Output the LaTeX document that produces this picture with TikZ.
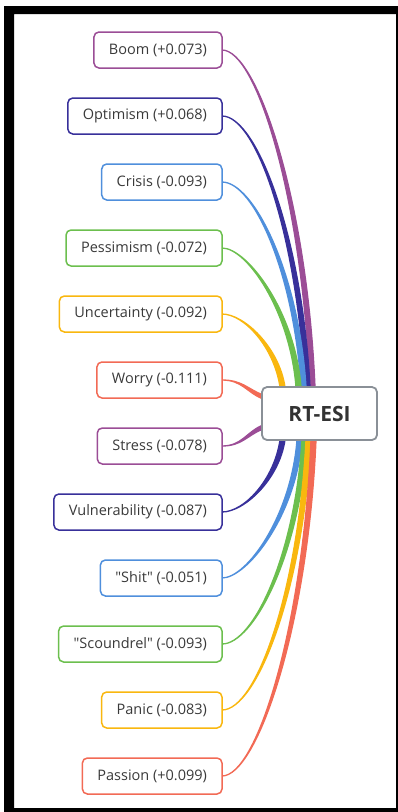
\documentclass[tikz,border=0pt]{standalone}
\usepackage{fontspec}
\setmainfont{Open Sans}[Ligatures=TeXOff]
\usetikzlibrary{calc,backgrounds}

\definecolor{mmpurple}{HTML}{9B4D96}
\definecolor{mmindigo}{HTML}{38309A}
\definecolor{mmblue}{HTML}{4F8FDC}
\definecolor{mmgreen}{HTML}{6CBF4E}
\definecolor{mmyellow}{HTML}{F9B70F}
\definecolor{mmcoral}{HTML}{F26A55}
\definecolor{hubgray}{HTML}{8A9097}
\definecolor{txtgray}{HTML}{3A3A3A}

\tikzset{
  leaf/.style={draw, rounded corners=5pt, line width=1.5pt, fill=white,
    minimum height=36pt, inner xsep=15pt, outer sep=0pt, anchor=east,
    text=txtgray, font=\fontsize{14.5}{17}\selectfont},
  branch/.style={line width=1.3pt},
}

\begin{document}
\begin{tikzpicture}[x=1pt, y=-1pt]
    \useasboundingbox (0,0) rectangle (398,812);
    % central topic
    \node[draw=hubgray, line width=1.8pt, rounded corners=5pt, fill=white, outer sep=0pt,
          minimum width=115pt, minimum height=53pt, text=black!80,
          font=\fontsize{21}{24}\selectfont\bfseries] (rtesi) at (319.5,413.5) {RT-ESI};
    % leaves
    \node[leaf, draw=mmpurple] (boom) at (222,50) {Boom (+0.073)};
    \node[leaf, draw=mmindigo] (optimism) at (222,116) {Optimism (+0.068)};
    \node[leaf, draw=mmblue] (crisis) at (222,182) {Crisis (-0.093)};
    \node[leaf, draw=mmgreen] (pessimism) at (222,248) {Pessimism (-0.072)};
    \node[leaf, draw=mmyellow] (uncertainty) at (222,314) {Uncertainty (-0.092)};
    \node[leaf, draw=mmcoral] (worry) at (222,380) {Worry (-0.111)};
    \node[leaf, draw=mmpurple] (stress) at (222,446) {Stress (-0.078)};
    \node[leaf, draw=mmindigo] (vulnerability) at (222,512) {Vulnerability (-0.087)};
    \node[leaf, draw=mmblue] (shit) at (222,578) {"Shit" (-0.051)};
    \node[leaf, draw=mmgreen] (scoundrel) at (222,644) {"Scoundrel" (-0.093)};
    \node[leaf, draw=mmyellow] (panic) at (222,710) {Panic (-0.083)};
    \node[leaf, draw=mmcoral] (passion) at (222,776) {Passion (+0.099)};

    \begin{pgfonlayer}{background}
    % frame
    \fill[black, even odd rule] (4,6) rectangle (398,812) (14,14) rectangle (396,808);
    % upper branches
    \filldraw[branch, mmpurple] (boom.east) .. controls +(35,0) and +(-8,-187) .. ($(rtesi.north west)+(48,0)$) -- ++(5,0) .. controls +(-8,-187) and ($(boom.east)+(35,0)$) .. (boom.east);
    \filldraw[branch, mmindigo] (optimism.east) .. controls +(35,0) and +(-8,-150) .. ($(rtesi.north west)+(43,0)$) -- ++(5,0) .. controls +(-8,-150) and ($(optimism.east)+(35,0)$) .. (optimism.east);
    \filldraw[branch, mmblue] (crisis.east) .. controls +(32,0) and +(-7,-113) .. ($(rtesi.north west)+(39,0)$) -- ++(5,0) .. controls +(-7,-113) and ($(crisis.east)+(32,0)$) .. (crisis.east);
    \filldraw[branch, mmgreen] (pessimism.east) .. controls +(25,0) and +(-6,-76) .. ($(rtesi.north west)+(34,0)$) -- ++(5,0) .. controls +(-6,-76) and ($(pessimism.east)+(25,0)$) .. (pessimism.east);
    \filldraw[branch, mmyellow] (uncertainty.east) .. controls +(22,0) and +(-6,-40) .. ($(rtesi.north west)+(18,0)$) -- ++(5,0) .. controls +(-6,-40) and ($(uncertainty.east)+(22,0)$) .. (uncertainty.east);
    % side branches
    \filldraw[branch, mmcoral] (worry.east) .. controls +(20,0) and +(-15,-6) .. ($(rtesi.west)+(0,-19)$) -- ++(0,4) .. controls +(-15,-6) and ($(worry.east)+(20,0)$) .. (worry.east);
    \filldraw[branch, mmpurple] (stress.east) .. controls +(20,0) and +(-15,6) .. ($(rtesi.west)+(0,16)$) -- ++(0,-4) .. controls +(-15,6) and ($(stress.east)+(20,0)$) .. (stress.east);
    % lower branches
    \filldraw[branch, mmindigo] (vulnerability.east) .. controls +(22,0) and +(-6,40) .. ($(rtesi.south west)+(18,0)$) -- ++(5,0) .. controls +(-6,40) and ($(vulnerability.east)+(22,0)$) .. (vulnerability.east);
    \filldraw[branch, mmblue] (shit.east) .. controls +(25,0) and +(-6,76) .. ($(rtesi.south west)+(35,0)$) -- ++(5,0) .. controls +(-6,76) and ($(shit.east)+(25,0)$) .. (shit.east);
    \filldraw[branch, mmgreen] (scoundrel.east) .. controls +(32,0) and +(-7,113) .. ($(rtesi.south west)+(40,0)$) -- ++(5,0) .. controls +(-7,113) and ($(scoundrel.east)+(32,0)$) .. (scoundrel.east);
    \filldraw[branch, mmyellow] (panic.east) .. controls +(35,0) and +(-8,150) .. ($(rtesi.south west)+(44,0)$) -- ++(5,0) .. controls +(-8,150) and ($(panic.east)+(35,0)$) .. (panic.east);
    \filldraw[branch, mmcoral] (passion.east) .. controls +(35,0) and +(-8,187) .. ($(rtesi.south west)+(49,0)$) -- ++(5,0) .. controls +(-8,187) and ($(passion.east)+(35,0)$) .. (passion.east);
    \end{pgfonlayer}
\end{tikzpicture}
\end{document}
